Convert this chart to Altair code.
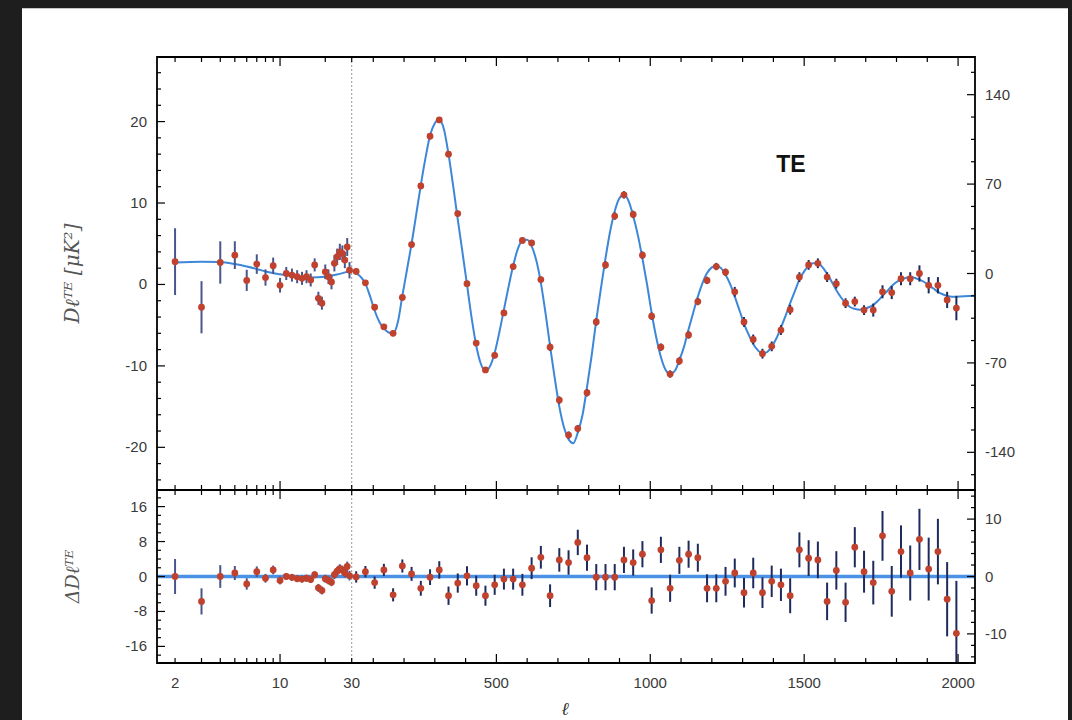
import altair as alt
import pandas as pd

# ---------------- data ----------------
low_ell = [2, 3, 4, 5, 6, 7, 8, 9, 10, 11, 12, 13, 14, 15, 16, 17, 18, 19, 20,
           21, 22, 23, 24, 25, 26, 27, 28, 29]
low_val = [2.8, -2.8, 2.7, 3.6, 0.5, 2.5, 0.85, 2.3, -0.1, 1.35, 1.15, 0.95, 0.75,
           0.95, 0.55, 2.4, -1.7, -2.3, 1.55, 0.95, 0.3, 2.6, 3.4, 4.0, 3.8, 3.0,
           4.6, 1.75]
low_err = [4.1, 3.2, 2.6, 1.7, 1.3, 1.2, 1.0, 1.0, 0.9, 0.8, 0.8, 0.8, 0.8, 0.8,
           0.8, 0.8, 0.8, 0.8, 0.9, 0.9, 0.9, 1.0, 1.0, 1.0, 1.0, 1.0, 1.1, 1.0]
low_res = [0.0, -5.7, 0.0, 0.8, -1.7, 1.1, -0.4, 1.5, -0.9, 0.0, -0.2, -0.5, -0.6,
           -0.4, -0.7, 0.4, -2.6, -3.2, -0.5, -0.9, -1.3, 0.4, 1.2, 1.8, 1.5, 0.8,
           2.3, 0.2]
low_res_err = [4.0, 3.0, 2.6, 1.6, 1.3, 1.2, 1.0, 1.0, 0.9, 0.8, 0.8, 0.8, 0.8, 0.8,
               0.8, 0.8, 0.9, 0.9, 0.9, 0.9, 0.9, 1.0, 1.0, 1.0, 1.0, 1.0, 1.1, 1.1]

bin_ell = [44.5, 74.5, 104.5, 134.5, 164.5, 194.5, 224.5, 254.5, 284.5, 314.5,
           344.5, 374.5, 404.5, 434.5, 464.5, 494.5, 524.5, 554.5, 584.5, 614.5,
           644.5, 674.5, 704.5, 734.5, 764.5, 794.5, 824.5, 854.5, 884.5, 914.5,
           944.5, 974.5, 1004.5, 1034.5, 1064.5, 1094.5, 1124.5, 1154.5, 1184.5,
           1214.5, 1244.5, 1274.5, 1304.5, 1334.5, 1364.5, 1394.5, 1424.5, 1454.5,
           1484.5, 1514.5, 1544.5, 1574.5, 1604.5, 1634.5, 1664.5, 1694.5, 1724.5,
           1754.5, 1784.5, 1814.5, 1844.5, 1874.5, 1904.5, 1934.5, 1964.5, 1994.5]
bin_val = [1.6, 0.2, -2.8, -5.2, -6.0, -1.6, 4.9, 12.1, 18.2, 20.2,
           16.0, 8.7, 0.1, -7.2, -10.5, -8.7, -3.5, 2.2, 5.4, 5.1,
           0.6, -7.7, -14.2, -18.5, -17.7, -13.3, -4.6, 2.4, 8.4, 11.0,
           8.6, 3.6, -3.9, -7.7, -11.0, -9.4, -6.2, -2.1, 0.5, 2.2,
           1.5, -0.9, -4.6, -6.75, -8.5, -7.6, -5.6, -3.1, 0.9, 2.4,
           2.6, 0.9, 0.1, -2.3, -2.1, -3.15, -3.15, -0.9, -1.0, 0.7,
           0.7, 1.35, -0.1, -0.1, -1.9, -2.9]
bin_err = [0.35, 0.35, 0.35, 0.35, 0.35, 0.35, 0.35, 0.35, 0.35, 0.35,
           0.35, 0.35, 0.35, 0.35, 0.35, 0.35, 0.35, 0.35, 0.35, 0.35,
           0.35, 0.45, 0.45, 0.45, 0.45, 0.45, 0.45, 0.45, 0.45, 0.45,
           0.45, 0.45, 0.45, 0.45, 0.45, 0.45, 0.45, 0.45, 0.45, 0.45,
           0.45, 0.6, 0.6, 0.6, 0.6, 0.6, 0.6, 0.6, 0.6, 0.6,
           0.6, 0.6, 0.6, 0.6, 0.6, 0.6, 0.8, 0.8, 0.8, 0.8,
           0.8, 1.0, 1.0, 1.0, 1.0, 1.5]
res_val = [-0.1, 1.1, -1.4, 1.5, -4.2, 2.4, 0.6, -2.7, -0.15, 1.5,
           -4.4, -1.5, 0.15, -2.1, -4.4, -1.9, -0.6, -0.6, -1.9, 1.9,
           4.4, -4.4, 3.8, 3.2, 7.8, 4.3, -0.15, -0.15, -0.15, 3.8,
           3.2, 5.1, -5.5, 6.1, -2.7, 3.7, 5.1, 4.3, -2.7, -2.7,
           -1.1, 0.8, -3.7, 0.8, -3.7, -1.1, -1.9, -4.4, 6.1, 4.2,
           3.8, -5.7, 1.4, -5.9, 6.7, 1.1, -1.4, 9.3, -3.4, 5.7,
           0.8, 8.5, 1.7, 5.7, -5.2, -13.0]
res_err = [1.3, 1.3, 1.4, 1.4, 1.5, 1.5, 1.6, 1.7, 1.8, 2.0,
           2.1, 2.2, 2.2, 2.3, 2.3, 2.3, 2.4, 2.4, 2.5, 2.5,
           2.6, 2.6, 2.7, 2.8, 2.9, 3.0, 3.0, 3.0, 3.0, 3.0,
           3.0, 3.0, 3.0, 3.0, 3.1, 3.1, 3.1, 3.2, 3.2, 3.2,
           3.3, 3.3, 3.4, 3.5, 3.5, 3.6, 3.7, 4.0, 4.0, 4.1,
           4.2, 4.3, 4.4, 4.5, 4.6, 4.8, 5.0, 5.7, 5.8, 6.0,
           6.3, 7.0, 7.2, 7.5, 8.5, 12.0]

theory_ell = [2, 3, 4, 5, 6, 7, 8, 10, 13, 16, 20, 25, 30, 44.5, 60, 74.5, 90,
              104.5, 120, 134.5, 150, 164.5, 180, 194.5, 210, 224.5, 240, 254.5,
              270, 284.5, 300, 314.5, 330, 344.5, 360, 374.5, 390, 404.5, 420,
              434.5, 450, 464.5, 480, 494.5, 510, 524.5, 540, 554.5, 570, 584.5,
              600, 614.5, 630, 644.5, 660, 674.5, 690, 704.5, 720, 734.5, 750,
              764.5, 780, 794.5, 810, 824.5, 840, 854.5, 870, 884.5, 900, 914.5,
              930, 944.5, 960, 974.5, 990, 1004.5, 1020, 1034.5, 1050, 1064.5,
              1080, 1094.5, 1110, 1124.5, 1140, 1154.5, 1170, 1184.5, 1200,
              1214.5, 1230, 1244.5, 1260, 1274.5, 1290, 1304.5, 1320, 1334.5,
              1350, 1364.5, 1380, 1394.5, 1410, 1424.5, 1440, 1454.5, 1470,
              1484.5, 1500, 1514.5, 1530, 1544.5, 1560, 1574.5, 1590, 1604.5,
              1620, 1634.5, 1650, 1664.5, 1680, 1694.5, 1710, 1724.5, 1740,
              1754.5, 1770, 1784.5, 1800, 1814.5, 1830, 1844.5, 1860, 1874.5,
              1890, 1904.5, 1920, 1934.5, 1950, 1964.5, 1980, 1994.5, 2055]
theory_val = [2.7, 2.8, 2.75, 2.5, 2.2, 1.9, 1.6, 1.25, 0.95, 0.85, 0.95, 1.3, 1.65,
              1.4, 0.9, 0.1, -1.5, -3.2, -4.6, -5.4, -5.9, -6.0, -4.6, -1.4, 1.9,
              5.0, 8.7, 12.2, 15.6, 18.3, 19.8, 20.3, 19.0, 16.0, 12.0, 8.0, 3.9,
              0.0, -4.2, -7.5, -9.8, -10.6, -10.0, -8.4, -5.8, -3.1, -0.2, 2.3,
              4.4, 5.4, 5.5, 4.7, 2.9, 0.2, -3.6, -7.6, -11.6, -15.0, -17.6,
              -19.0, -19.5, -18.2, -16.0, -12.6, -8.6, -4.4, -0.4, 3.2, 6.6, 9.0,
              10.6, 11.0, 10.2, 8.4, 6.0, 3.2, -0.1, -3.5, -6.6, -8.9, -10.5,
              -11.0, -10.6, -9.3, -7.6, -5.5, -3.4, -1.5, 0.2, 1.4, 2.1, 2.3, 2.0,
              1.2, 0.0, -1.5, -3.2, -4.8, -6.2, -7.3, -8.1, -8.5, -8.3, -7.6,
              -6.6, -5.3, -3.8, -2.3, -0.8, 0.6, 1.6, 2.3, 2.6, 2.6, 2.1, 1.3,
              0.3, -0.7, -1.6, -2.3, -2.8, -3.0, -3.1, -3.0, -2.8, -2.5, -2.0,
              -1.4, -0.8, -0.2, 0.3, 0.6, 0.8, 0.9, 0.8, 0.6, 0.3, -0.1, -0.5,
              -0.9, -1.2, -1.4, -1.5, -1.5, -1.4]

x_label_ell = [2, 10, 30, 500, 1000, 1500, 2000]
x_major_ticks = [10, 500, 1000, 1500, 2000]
x_minor_ticks = [2, 3, 4, 5, 6, 7, 8, 9, 20, 30, 100, 200, 300, 400, 600, 700, 800,
                 900, 1100, 1200, 1300, 1400, 1600, 1700, 1800, 1900]
top_left_major = [-20, -10, 0, 10, 20]
top_left_minor = [-24, -22, -18, -16, -14, -12, -8, -6, -4, -2, 2, 4, 6, 8, 12, 14,
                  16, 18, 22, 24, 26]
top_right_major = [-140, -70, 0, 70, 140]
top_right_minor = [-157.5, -122.5, -105, -87.5, -52.5, -35, -17.5, 17.5, 35, 52.5,
                   87.5, 105, 122.5, 157.5]
bot_left_major = [-16, -8, 0, 8, 16]
bot_left_minor = [-18, -14, -12, -10, -6, -4, -2, 2, 4, 6, 10, 12, 14, 18]
bot_right_major = [-10, 0, 10]
bot_right_minor = [-14, -12, -8, -6, -4, -2, 2, 4, 6, 8, 12, 14]

# ---------------- layout / style ----------------
W, H1, H2 = 818, 433, 173
XDOM = [-602.6, 2055]
Y1L = [-25.24, 27.93]
Y1R = [-169.5, 169.5]
Y2L = [-19.8, 19.8]
Y2R = [-15.07, 15.07]
U_EXPR = "datum.ell < 30 ? 30 + (log(datum.ell) - log(30)) / LN10 * 488 : datum.ell"
FONT = "Liberation Sans"
RED = "#c0422e"
NAVY = "#1f2a5c"
BLUE = "#3d87d8"
LBL = "#3a3a3a"

xs = alt.Scale(domain=XDOM, nice=False, zero=False)


def xenc():
    return alt.X("u:Q", scale=xs, axis=None)


def ysc(d):
    return alt.Scale(domain=d, nice=False, zero=False)


def one():
    return pd.DataFrame({"k": [0]})


def xticks(H, vals, length):
    base = alt.Chart(pd.DataFrame({"ell": vals})).transform_calculate(u=U_EXPR)
    t = base.mark_rule(color="black", strokeWidth=1.2).encode(
        x=xenc(), y=alt.value(0), y2=alt.value(length))
    b = base.mark_rule(color="black", strokeWidth=1.2).encode(
        x=xenc(), y=alt.value(H), y2=alt.value(H - length))
    return [t, b]


def yticks(vals, dom, length, side):
    x0 = 0 if side == "left" else W
    x1 = length if side == "left" else W - length
    return alt.Chart(pd.DataFrame({"t": vals})).mark_rule(color="black", strokeWidth=1.2).encode(
        y=alt.Y("t:Q", scale=ysc(dom), axis=None), x=alt.value(x0), x2=alt.value(x1))


def ylabels(vals, dom, side):
    lab = [("-" + str(abs(v))) if v < 0 else str(v) for v in vals]
    return alt.Chart(pd.DataFrame({"t": vals, "lab": lab})).mark_text(
        font=FONT, fontSize=15, color=LBL, baseline="middle",
        align="right" if side == "left" else "left").encode(
        y=alt.Y("t:Q", scale=ysc(dom), axis=None),
        x=alt.value(-10 if side == "left" else W + 10), text="lab:N")


def vline(H):
    return alt.Chart(pd.DataFrame({"ell": [30]})).transform_calculate(u=U_EXPR).mark_rule(
        color="#9a9a9a", strokeWidth=1, strokeDash=[2, 2]).encode(
        x=xenc(), y=alt.value(0), y2=alt.value(H))


def ebars(df, dom, color, width, clip=False):
    return alt.Chart(df).transform_calculate(
        u=U_EXPR, lo="datum.v - datum.e", hi="datum.v + datum.e").mark_rule(
        color=color, strokeWidth=width, clip=clip).encode(
        x=xenc(), y=alt.Y("lo:Q", scale=ysc(dom), axis=None), y2="hi:Q")


def pts(df, dom):
    return alt.Chart(df).transform_calculate(u=U_EXPR).mark_circle(
        size=46, color=RED, opacity=1).encode(
        x=xenc(), y=alt.Y("v:Q", scale=ysc(dom), axis=None))


def frame(H):
    return alt.Chart(one()).mark_rect(fillOpacity=0, stroke="black", strokeWidth=1.8).encode(
        x=alt.value(0), x2=alt.value(W), y=alt.value(0), y2=alt.value(H))


def ytitle(text, H, size):
    return alt.Chart(one()).mark_text(
        text=text, angle=270, font="DejaVu Serif", fontStyle="italic", fontSize=size,
        color="#555555", align="center", baseline="middle").encode(
        x=alt.value(-84), y=alt.value(H / 2))


low_df = pd.DataFrame({"ell": low_ell, "v": low_val, "e": low_err})
bin_df = pd.DataFrame({"ell": bin_ell, "v": bin_val, "e": bin_err})
lowres_df = pd.DataFrame({"ell": low_ell, "v": low_res, "e": low_res_err})
res_df = pd.DataFrame({"ell": bin_ell, "v": res_val, "e": res_err})
theory_df = pd.DataFrame({"ell": theory_ell, "c": theory_val})

white = alt.Chart(one()).mark_rect(color="white").encode(
    x=alt.value(-135), x2=alt.value(911), y=alt.value(-48.7), y2=alt.value(740))

curve = alt.Chart(theory_df).transform_calculate(u=U_EXPR).mark_line(
    color=BLUE, strokeWidth=2, interpolate="monotone").encode(
    x=xenc(), y=alt.Y("c:Q", scale=ysc(Y1L), axis=None))

te_label = alt.Chart(one()).mark_text(
    text="TE", font=FONT, fontSize=23, fontWeight="bold", color="#111111",
    align="center", baseline="middle").encode(x=alt.value(634), y=alt.value(108))

top_left = alt.layer(
    white, vline(H1), curve,
    ebars(low_df, Y1L, "#4a558c", 2),
    ebars(bin_df, Y1L, NAVY, 2),
    pts(low_df, Y1L),
    pts(bin_df, Y1L),
    *xticks(H1, x_major_ticks, 9), *xticks(H1, x_minor_ticks, 5),
    yticks(top_left_major, Y1L, 8, "left"), yticks(top_left_minor, Y1L, 4, "left"),
    ylabels(top_left_major, Y1L, "left"),
    te_label, ytitle("D\u2113\u1d40\u1d31 [\u03bcK\u00b2]", H1, 20), frame(H1),
)
top_right = alt.layer(
    yticks(top_right_major, Y1R, 8, "right"),
    yticks(top_right_minor, Y1R, 4, "right"),
    ylabels(top_right_major, Y1R, "right"),
)
top = alt.layer(top_left, top_right).resolve_scale(y="independent").properties(
    width=W, height=H1)

zero = alt.Chart(pd.DataFrame({"z": [0]})).mark_rule(color="#4b92e6", strokeWidth=3.5).encode(
    y=alt.Y("z:Q", scale=ysc(Y2L), axis=None), x=alt.value(0), x2=alt.value(W))

xlabels = alt.Chart(pd.DataFrame({"ell": x_label_ell, "lab": [str(v) for v in x_label_ell]})
                    ).transform_calculate(u=U_EXPR).mark_text(
    font=FONT, fontSize=15, color=LBL, baseline="middle").encode(
    x=xenc(), y=alt.value(H2 + 20), text="lab:N")

ell_title = alt.Chart(one()).mark_text(
    text="\u2113", font="DejaVu Serif", fontStyle="italic", fontSize=18, color="#333333",
    align="center", baseline="alphabetic").encode(x=alt.value(408), y=alt.value(225))

bot_left = alt.layer(
    vline(H2), zero,
    ebars(lowres_df, Y2L, "#4a558c", 2, clip=True),
    ebars(res_df, Y2L, NAVY, 2, clip=True),
    pts(lowres_df, Y2L),
    pts(res_df, Y2L),
    *xticks(H2, x_major_ticks, 9), *xticks(H2, x_minor_ticks, 5),
    yticks(bot_left_major, Y2L, 8, "left"), yticks(bot_left_minor, Y2L, 4, "left"),
    ylabels(bot_left_major, Y2L, "left"),
    xlabels, ell_title, ytitle("\u0394D\u2113\u1d40\u1d31", H2, 19), frame(H2),
)
bot_right = alt.layer(
    yticks(bot_right_major, Y2R, 8, "right"),
    yticks(bot_right_minor, Y2R, 4, "right"),
    ylabels(bot_right_major, Y2R, "right"),
)
bot = alt.layer(bot_left, bot_right).resolve_scale(y="independent").properties(
    width=W, height=H2)

chart = alt.vconcat(top, bot, spacing=0, bounds="flush").resolve_scale(
    x="independent", y="independent").properties(
    background="#1e1e1e",
    padding={"left": 22, "top": 8, "right": 4, "bottom": 0},
).configure_view(stroke=None)

chart.save("out.html", embed_options={"renderer": "svg", "actions": False})
